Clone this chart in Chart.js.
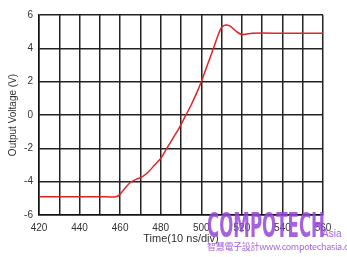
<!DOCTYPE html>
<html>
<head>
<meta charset="utf-8">
<script src="https://cdn.jsdelivr.net/npm/chart.js@4"></script>
<style>
  html, body { margin: 0; padding: 0; background: #fff; }
  #wrap { position: relative; width: 347px; height: 257px; }
  .wm { position: absolute; color: rgba(150, 70, 215, 0.85); white-space: nowrap; }
  #wm1 { left: 207px; top: 206px; font: bold 33px "DejaVu Sans Condensed", sans-serif; transform: scaleX(0.56); transform-origin: left top; }
  #wm2 { left: 322px; top: 228px; font: 10px "Liberation Sans", sans-serif; }
  #wm3 { left: 207px; top: 240px; font: 9px "Noto Sans CJK TC", sans-serif; letter-spacing: -0.3px; }
</style>
</head>
<body>
<div id="wrap">
  <canvas id="c" width="347" height="257"></canvas>
  <div class="wm" id="wm1">COMPOTECH</div>
  <div class="wm" id="wm2">Asia</div>
  <div class="wm" id="wm3">智慧電子設計www.compotechasia.com</div>
</div>
<script>
// time in units of 10 ns, output in volts
var times = [420, 430, 440, 450, 458, 460, 462, 465, 468, 471, 474, 477, 480, 483, 486, 489, 492, 495, 498, 500, 503, 506, 508, 510, 512, 514, 516, 518, 520, 522, 525, 530, 540, 550, 560];
var volts = [-4.9, -4.9, -4.9, -4.9, -4.9, -4.75, -4.45, -4.05, -3.85, -3.7, -3.4, -3.0, -2.6, -2.0, -1.4, -0.8, -0.1, 0.6, 1.4, 2.0, 3.0, 4.0, 4.7, 5.25, 5.4, 5.35, 5.15, 4.95, 4.83, 4.85, 4.9, 4.92, 4.9, 4.9, 4.9];

var xTitle = 'Time(10 ns/div)';
var yTitle = 'Output Voltage (V)';

var points = [];
for (var i = 0; i < times.length; i++) {
    points.push({x: times[i], y: volts[i]});
}

var ctx = document.getElementById('c').getContext('2d');
var chart = new Chart(ctx, {
    type: 'line',
    data: {
        datasets: [{
            data: points,
            borderColor: '#e02424',
            borderWidth: 1.5,
            pointRadius: 0,
            tension: 0.3,
            fill: false
        }]
    },
    options: {
        animation: false,
        responsive: false,
        maintainAspectRatio: false,
        layout: { padding: { left: 7, right: 24, top: 15, bottom: 11 } },
        plugins: { legend: { display: false }, tooltip: { enabled: false } },
        scales: {
            x: {
                type: 'linear',
                min: 420,
                max: 560,
                afterFit: function(scale) { scale.height = 31; },
                border: { color: '#111', width: 1.5 },
                grid: { color: '#222', lineWidth: 1.5, drawTicks: false },
                ticks: {
                    stepSize: 10,
                    padding: 7,
                    maxRotation: 0,
                    autoSkip: false,
                    color: '#333',
                    font: { family: 'Liberation Sans', size: 10 },
                    callback: function(v) { return v % 20 === 0 ? v : ''; }
                },
                title: {
                    display: true,
                    text: xTitle,
                    color: '#333',
                    font: { family: 'Liberation Sans', size: 11 },
                    padding: { top: 0, bottom: 0 }
                }
            },
            y: {
                min: -6,
                max: 6,
                afterFit: function(scale) { scale.width = 32; },
                border: { color: '#111', width: 1.5 },
                grid: { color: '#222', lineWidth: 1.5, drawTicks: false },
                ticks: {
                    stepSize: 2,
                    padding: 6,
                    color: '#333',
                    font: { family: 'Liberation Sans', size: 10 }
                },
                title: {
                    display: true,
                    text: yTitle,
                    color: '#333',
                    font: { family: 'Liberation Sans', size: 10 },
                    padding: { top: 0, bottom: 0 }
                }
            }
        }
    }
});
</script>
</body>
</html>
